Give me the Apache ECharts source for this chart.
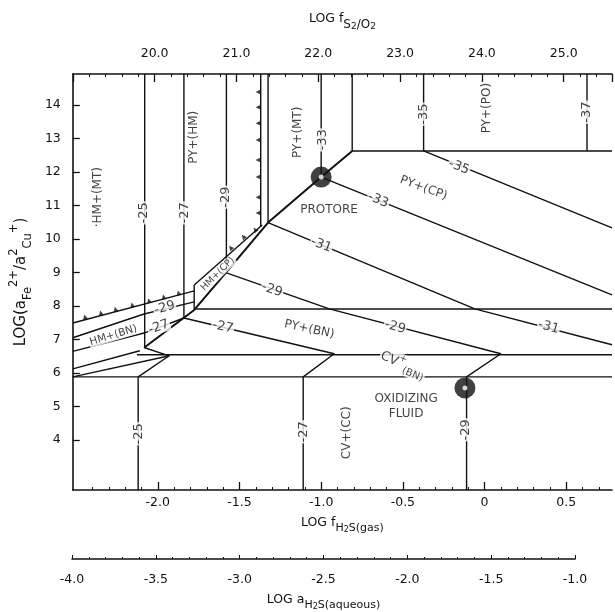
<!DOCTYPE html>
<html>
<head>
<meta charset="utf-8">
<script src="https://cdn.jsdelivr.net/npm/echarts@6/dist/echarts.min.js"></script>
<style>
  html, body { margin: 0; padding: 0; background: #fff; }
  #chart { width: 615px; height: 612px; }
</style>
</head>
<body>
<div id="chart"></div>
<script>
// tick values
const yTicks = [4, 5, 6, 7, 8, 9, 10, 11, 12, 13, 14];
const gasTicks = [-2.0, -1.5, -1.0, -0.5, 0, 0.5];
const gasMinor = [-2.4, -2.3, -2.2, -2.1, -1.9, -1.8, -1.7, -1.6, -1.4, -1.3, -1.2, -1.1,
  -0.9, -0.8, -0.7, -0.6, -0.4, -0.3, -0.2, -0.1, 0.1, 0.2, 0.3, 0.4, 0.6, 0.7];

// fO2 contours, points are [log fH2S(gas), log(aFe2+/a2Cu+)]
const contour25 = [[-2.08, 14.93], [-2.08, 6.75], [-1.93, 6.51], [-2.12, 5.88], [-2.12, 2.5]];
const contour27 = [[-1.84, 14.93], [-1.84, 7.64], [-0.92, 6.57], [-1.11, 5.88], [-1.11, 2.5]];
const contour27bn = [[-1.84, 7.64], [-2.084, 7.19], [-2.52, 6.64]];
const contour29 = [[-1.58, 14.93], [-1.58, 8.99], [-0.95, 7.91], [0.10, 6.57], [-0.11, 5.88], [-0.11, 2.5]];
const contour29bn = [[-1.777, 8.12], [-2.084, 7.76], [-2.52, 7.05]];
const contour31 = [[-1.325, 10.49], [-0.06, 7.91], [0.78, 6.84]];
const contour33 = [[-1.0, 14.93], [-1.0, 11.85], [0.78, 8.33]];
const contour35 = [[-0.373, 14.93], [-0.373, 12.63], [0.78, 10.33]];
const contour37 = [[0.627, 14.93], [0.627, 12.63]];

// phase boundaries
const hmEdge = [[-1.37, 14.93], [-1.37, 10.37]];
const mtEdge = [[-1.325, 14.93], [-1.325, 10.49]];
const poEdge = [[-0.81, 14.93], [-0.81, 12.63], [0.78, 12.63]];
const pyEdge = [[-0.81, 12.63], [-1.0, 11.85], [-1.325, 10.49], [-1.584, 8.99], [-1.777, 7.88], [-2.084, 6.75]];
const hmBase = [[-2.52, 7.49], [-1.777, 8.448]];
const hmSteep = [[-1.777, 8.627], [-1.361, 10.418]];
const cpSliver = [[-1.777, 8.627], [-1.777, 7.88]];
const bnTop = [[-1.777, 7.91], [0.78, 7.91]];
const cvTop = [[-2.127, 6.54], [0.78, 6.54]];
const cvBase = [[-2.52, 5.88], [0.78, 5.88]];
const wedgeA = [[-2.52, 6.12], [-2.11, 6.66]];
const wedgeB = [[-2.52, 5.88], [-1.928, 6.51]];

// hatch marks on the hematite boundaries
const hatchVertical = [[-1.386, 14.39], [-1.386, 13.94], [-1.386, 13.46], [-1.386, 12.96],
  [-1.386, 12.36], [-1.386, 11.85], [-1.386, 11.25], [-1.386, 10.78]];
const hatchSlope = [[-2.446, 7.67], [-2.349, 7.79], [-2.259, 7.90], [-2.157, 8.03],
  [-2.054, 8.16], [-1.964, 8.27], [-1.873, 8.39]];
const hatchSteep = [[-1.554, 9.74], [-1.476, 10.07], [-1.404, 10.28]];

// labels: [x, y, text, rotation]
const contourLabels = [
  [-2.084, 10.78, '-25', 90], [-1.837, 10.78, '-27', 90], [-1.584, 11.25, '-29', 90],
  [-0.988, 12.96, '-33', 90], [-0.373, 13.73, '-35', 90], [0.627, 13.79, '-37', 90],
  [-2.12, 4.18, '-25', 90], [-1.108, 4.24, '-27', 90], [-0.114, 4.30, '-29', 90],
  [-0.157, 12.15, '-35', -22], [-0.651, 11.16, '-33', -22], [-1.0, 9.82, '-31', -21],
  [-1.301, 8.48, '-29', -19], [-0.548, 7.37, '-29', -15], [0.392, 7.37, '-31', -15],
  [-1.602, 7.37, '-27', -13], [-1.958, 7.94, '-29', 15], [-1.994, 7.37, '-27', 19]
];
const fieldLabels = [
  [-2.367, 11.25, '·HM+(MT)', 90], [-1.777, 13.04, 'PY+(HM)', 90], [-1.145, 13.19, 'PY+(MT)', 90],
  [0.012, 13.91, 'PY+(PO)', 90], [-0.952, 10.87, 'PROTORE', 0], [-0.373, 11.52, 'PY+(CP)', -20],
  [-1.072, 7.30, 'PY+(BN)', -12], [-0.48, 4.99, 'OXIDIZING\nFLUID', 0], [-0.843, 4.21, 'CV+(CC)', 90],
  [-0.5, 6.24, '{a|CV}{p|+}{s|(BN)}', -24]
];
const sliverLabels = [[-2.271, 7.12, 'HM+(BN)', 17, 10.5], [-1.633, 8.955, 'HM+(CP)', 45, 9.5]];
const fluidPoints = [[-1.0, 11.85], [-0.12, 5.55]];

const INK = '#111111';
const FONT = 'DejaVu Sans';

const boundaries = [contour25, contour27, contour27bn, contour29, contour29bn, contour31, contour33,
  contour35, contour37, hmEdge, mtEdge, poEdge, hmBase, hmSteep, cpSliver, bnTop, cvTop, cvBase,
  wedgeA, wedgeB];

const lineSeries = boundaries.map(pts => ({
  type: 'line', data: pts, symbol: 'none', silent: true, animation: false,
  lineStyle: { color: INK, width: 1.4 }, z: 2
}));
lineSeries.push({
  type: 'line', data: pyEdge, symbol: 'none', silent: true, animation: false,
  lineStyle: { color: INK, width: 2 }, z: 2
});

const hatch = (pts, rot) => ({
  type: 'scatter', data: pts, symbol: 'triangle', symbolSize: [5, 5], symbolRotate: rot,
  itemStyle: { color: INK }, silent: true, animation: false, z: 3
});

const textRich = {
  a: { fontSize: 13, fontFamily: FONT, color: INK, lineHeight: 20, verticalAlign: 'middle' },
  p: { fontSize: 9, fontFamily: FONT, color: INK, lineHeight: 10, verticalAlign: 'top' },
  s: { fontSize: 10, fontFamily: FONT, color: INK, lineHeight: 10, verticalAlign: 'bottom' }
};

const textSeries = (items, style) => ({
  type: 'scatter', symbolSize: 1, itemStyle: { color: 'rgba(0,0,0,0)' },
  silent: true, animation: false, z: 5,
  data: items.map(d => ({
    value: [d[0], d[1]],
    label: Object.assign({
      show: true, position: 'inside', formatter: d[2], rotate: d[3],
      color: INK, fontFamily: FONT, rich: textRich
    }, style, d[4] ? { fontSize: d[4] } : {})
  }))
});

const fmt1 = v => Math.abs(v) < 1e-9 ? '0' : v.toFixed(1);
const axisFont = { color: INK, fontSize: 12.5, fontFamily: FONT };

const subRich = (big) => ({
  a: { fontSize: big, fontFamily: FONT, color: INK, lineHeight: 22, verticalAlign: 'middle' },
  s: { fontSize: 11, fontFamily: FONT, color: INK, lineHeight: 12, verticalAlign: 'bottom' },
  q: { fontSize: 8, fontFamily: FONT, color: INK, lineHeight: 8, verticalAlign: 'bottom' }
});

const option = {
  backgroundColor: '#fff',
  animation: false,
  grid: [
    { left: 65, top: 74, right: 3, bottom: 122 },
    { left: 72, right: 40, top: 558, height: 1 }
  ],
  xAxis: [
    {
      gridIndex: 0, type: 'value', position: 'bottom', min: -2.52, max: 0.78,
      axisLine: { show: true, onZero: false, lineStyle: { color: INK, width: 1.6 } },
      axisTick: { show: true, inside: true, length: 8, customValues: gasTicks, lineStyle: { color: INK, width: 1.3 } },
      axisLabel: Object.assign({ customValues: gasTicks, margin: 6, formatter: fmt1 }, axisFont),
      splitLine: { show: false },
      name: '{a|LOG f}{s|H}{q|2}{s|S(gas)}', nameLocation: 'middle', nameGap: 22,
      nameTextStyle: { rich: subRich(12.5) }
    },
    {
      gridIndex: 0, type: 'value', position: 'top', min: 19, max: 25.59, interval: 1,
      axisLine: { show: true, onZero: false, lineStyle: { color: INK, width: 1.6 } },
      axisTick: { show: true, inside: true, length: 8, lineStyle: { color: INK, width: 1.3 } },
      minorTick: { show: true, splitNumber: 5, length: 3, lineStyle: { color: INK } },
      axisLabel: Object.assign({ margin: 14, formatter: v => (v < 19.5 || v > 25.5) ? '' : v.toFixed(1) }, axisFont),
      splitLine: { show: false },
      name: '{a|LOG f}{s|S}{q|2}{s|/O}{q|2}', nameLocation: 'middle', nameGap: 43,
      nameTextStyle: { rich: {
        a: { fontSize: 12.5, fontFamily: FONT, color: INK, lineHeight: 24, verticalAlign: 'middle' },
        s: { fontSize: 12, fontFamily: FONT, color: INK, lineHeight: 14, verticalAlign: 'bottom' },
        q: { fontSize: 9, fontFamily: FONT, color: INK, lineHeight: 9, verticalAlign: 'bottom' }
      } }
    },
    {
      gridIndex: 0, type: 'value', position: 'bottom', offset: 0, min: -2.52, max: 0.78,
      axisLine: { show: false },
      axisTick: { show: true, inside: true, length: 3, customValues: gasMinor, lineStyle: { color: INK } },
      axisLabel: { show: false }, splitLine: { show: false }
    },
    {
      gridIndex: 1, type: 'value', position: 'bottom', min: -4, max: -1, interval: 0.5,
      axisLine: { show: true, onZero: false, lineStyle: { color: INK, width: 1.6 } },
      axisTick: { show: true, inside: true, length: 4, lineStyle: { color: INK } },
      minorTick: { show: true, splitNumber: 5, length: 2, lineStyle: { color: INK } },
      axisLabel: Object.assign({ margin: 14, showMinLabel: true, showMaxLabel: true, formatter: fmt1 }, axisFont),
      splitLine: { show: false },
      name: '{a|LOG a}{s|H}{q|2}{s|S(aqueous)}', nameLocation: 'middle', nameGap: 30,
      nameTextStyle: { rich: subRich(12.5) }
    }
  ],
  yAxis: [
    {
      gridIndex: 0, type: 'value', min: 2.5, max: 14.93,
      axisLine: { show: true, onZero: false, lineStyle: { color: INK, width: 1.6 } },
      axisTick: { show: true, inside: true, length: 7, customValues: yTicks, lineStyle: { color: INK, width: 1.3 } },
      axisLabel: Object.assign({ customValues: yTicks, margin: 12 }, axisFont),
      splitLine: { show: false },
      name: '{a|LOG(a}{s|Fe}{p|2+}{a|/a}{p|2}{s|Cu}{p|+}{a|)}', nameLocation: 'middle', nameGap: 25, nameRotate: 90,
      nameTextStyle: { rich: {
        a: { fontSize: 15, fontFamily: FONT, color: INK, lineHeight: 26, verticalAlign: 'middle' },
        s: { fontSize: 11.5, fontFamily: FONT, color: INK, lineHeight: 11, verticalAlign: 'bottom' },
        p: { fontSize: 11.5, fontFamily: FONT, color: INK, lineHeight: 11, verticalAlign: 'top' }
      } }
    },
    { gridIndex: 1, type: 'value', show: false, min: 0, max: 1 }
  ],
  series: [
    ...lineSeries,
    hatch(hatchVertical, 90),
    hatch(hatchSlope, 14),
    hatch(hatchSteep, 40),
    textSeries(contourLabels, { fontSize: 13, backgroundColor: '#fff', padding: [0, 1] }),
    textSeries(fieldLabels, { fontSize: 12, lineHeight: 15, backgroundColor: '#fff', padding: [0, 1] }),
    textSeries(sliverLabels, { backgroundColor: '#fff', padding: [0, 1] }),
    {
      type: 'scatter', data: fluidPoints, symbol: 'circle', symbolSize: 21,
      itemStyle: { color: INK }, silent: true, animation: false, z: 6
    },
    {
      type: 'scatter', data: fluidPoints, symbol: 'circle', symbolSize: 5,
      itemStyle: { color: '#fff' }, silent: true, animation: false, z: 7
    }
  ]
};

const chart = echarts.init(document.getElementById('chart'), null, { renderer: 'canvas' });
chart.setOption(option);
</script>
</body>
</html>
